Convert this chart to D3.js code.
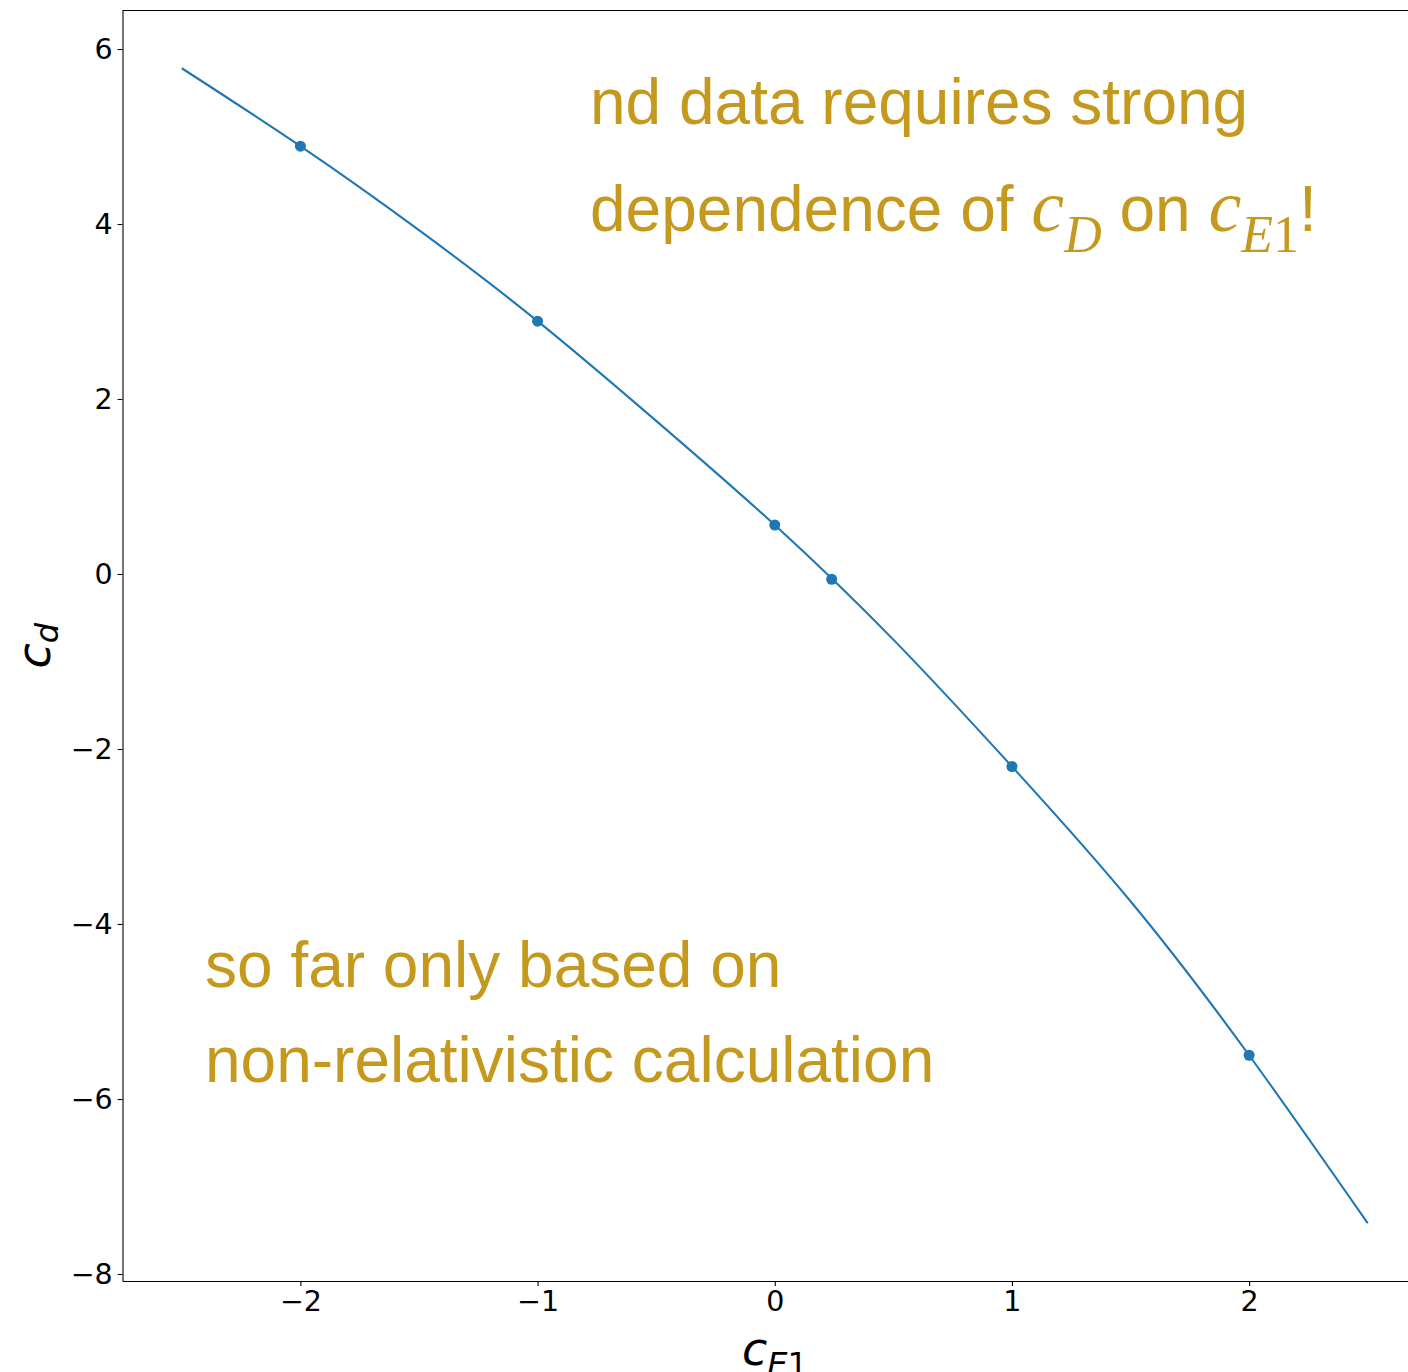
<!DOCTYPE html>
<html>
<head>
<meta charset="utf-8">
<script src="https://cdn.jsdelivr.net/npm/d3@7"></script>
<style>
  body { margin: 0; background: #fff; }
  svg { display: block; }
</style>
</head>
<body>
<script>
// fitted curve c_D(c_E1)
const curveE1 = [-2.5, -2, -1.5, -1, -0.5, 0, 0.5, 1, 1.5, 2, 2.5];
const curveD = [5.78, 4.89, 3.93, 2.89, 1.75, 0.56, -0.75, -2.2, -3.74, -5.5, -7.42];

// computed points
const pointE1 = [-2, -1, 0, 0.24, 1, 2];
const pointD = [4.89, 2.89, 0.56, -0.06, -2.2, -5.5];

const xTicks = [-2, -1, 0, 1, 2];
const yTicks = [-8, -6, -4, -2, 0, 2, 4, 6];

const width = 1408, height = 1372;
const mLeft = 122.5, mTop = 10.5, mBottom = 1281, mRight = 1427;
const blue = "#1f77b4", gold = "#c4991d";

const x = d3.scaleLinear().domain([-2.75, 2.75]).range([mLeft, mRight]);
const y = d3.scaleLinear().domain([-8.08, 6.44]).range([mBottom, mTop]);

const svg = d3.select("body").append("svg")
  .attr("width", width)
  .attr("height", height);

const fmt = d3.format("d");

svg.append("g")
  .attr("transform", `translate(0,${mBottom})`)
  .call(d3.axisBottom(x).tickValues(xTicks).tickFormat(fmt)
    .tickSize(4.9).tickSizeOuter(0).tickPadding(4.9))
  .call((g) => g.selectAll("text")
    .attr("font-family", "DejaVu Sans").attr("font-size", 28.5).attr("fill", "#000"))
  .call((g) => g.selectAll("line, path").attr("stroke", "#000").attr("stroke-width", 1.1));

svg.append("g")
  .attr("transform", `translate(${mLeft},0)`)
  .call(d3.axisLeft(y).tickValues(yTicks).tickFormat(fmt)
    .tickSize(4.9).tickSizeOuter(0).tickPadding(4.9))
  .call((g) => g.selectAll("text")
    .attr("font-family", "DejaVu Sans").attr("font-size", 28.5).attr("fill", "#000"))
  .call((g) => g.selectAll("line, path").attr("stroke", "#000").attr("stroke-width", 1.1));

// top and right spines
svg.append("path")
  .attr("fill", "none")
  .attr("stroke", "#000")
  .attr("stroke-width", 1.1)
  .attr("d", `M${mLeft},${mTop}H${mRight}V${mBottom}`);

const line = d3.line()
  .x((d, i) => x(curveE1[i]))
  .y((d) => y(d))
  .curve(d3.curveNatural);

svg.append("path")
  .datum(curveD)
  .attr("fill", "none")
  .attr("stroke", blue)
  .attr("stroke-width", 2.1)
  .attr("d", line);

svg.append("g")
  .selectAll("circle")
  .data(pointD)
  .join("circle")
  .attr("cx", (d, i) => x(pointE1[i]))
  .attr("cy", (d) => y(d))
  .attr("r", 5.5)
  .attr("fill", blue);

// axis labels
const xl = svg.append("text")
  .attr("x", 775)
  .attr("y", 1365)
  .attr("text-anchor", "middle")
  .attr("font-family", "DejaVu Sans")
  .attr("font-size", 46)
  .attr("fill", "#000");
xl.append("tspan").attr("font-style", "italic").text("c");
xl.append("tspan").attr("font-style", "italic").attr("font-size", 32).attr("dy", 10).text("E");
xl.append("tspan").attr("font-size", 32).text("1");

const yl = svg.append("text")
  .attr("transform", `translate(50,${(mTop + mBottom) / 2}) rotate(-90)`)
  .attr("text-anchor", "middle")
  .attr("font-family", "DejaVu Sans")
  .attr("font-size", 46)
  .attr("fill", "#000");
yl.append("tspan").attr("font-style", "italic").text("c");
yl.append("tspan").attr("font-style", "italic").attr("font-size", 32).attr("dy", 8).text("d");

// annotations
const ann = svg.append("g")
  .attr("font-family", "Liberation Sans, Arial, sans-serif")
  .attr("font-size", 64)
  .attr("fill", gold);

ann.append("text").attr("x", 590).attr("y", 124).text("nd data requires strong");

const t2 = ann.append("text").attr("x", 590).attr("y", 231);
const serif = (s) => s.attr("font-family", "Liberation Serif");
t2.append("tspan").text("dependence of ");
t2.append("tspan").call(serif).attr("font-style", "italic").attr("font-size", 74).text("c");
t2.append("tspan").call(serif).attr("font-style", "italic")
  .attr("font-size", 52).attr("dy", 21).text("D");
t2.append("tspan").attr("dy", -21).text(" on ");
t2.append("tspan").call(serif).attr("font-style", "italic").attr("font-size", 74).text("c");
t2.append("tspan").call(serif).attr("font-style", "italic")
  .attr("font-size", 52).attr("dy", 21).text("E");
t2.append("tspan").call(serif).attr("font-size", 52).text("1");
t2.append("tspan").attr("dy", -21).text("!");

ann.append("text").attr("x", 205).attr("y", 987).text("so far only based on");
ann.append("text").attr("x", 205).attr("y", 1082).text("non-relativistic calculation");
</script>
</body>
</html>
